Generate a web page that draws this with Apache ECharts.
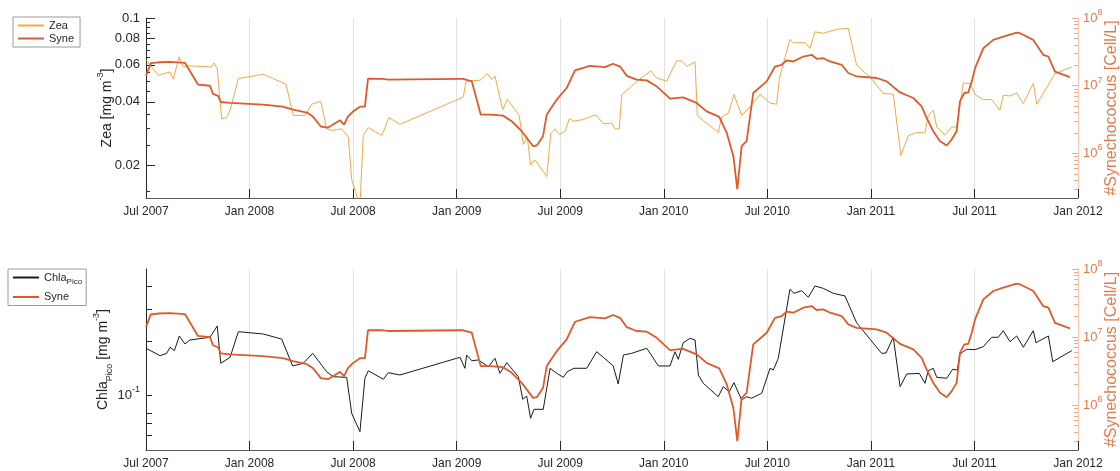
<!DOCTYPE html>
<html>
<head>
<meta charset="utf-8">
<script src="https://cdn.jsdelivr.net/npm/echarts@6/dist/echarts.min.js"></script>
<style>
  html, body { margin: 0; padding: 0; background: #fff; }
  #chart { width: 1120px; height: 471px; }
</style>
</head>
<body>
<div id="chart"></div>
<script>
// time in decimal years
const xTickValues = [2007.5, 2008, 2008.5, 2009, 2009.5, 2010, 2010.5, 2011, 2011.5, 2012];
const xTickLabels = ['Jul 2007', 'Jan 2008', 'Jul 2008', 'Jan 2009', 'Jul 2009', 'Jan 2010', 'Jul 2010', 'Jan 2011', 'Jul 2011', 'Jan 2012'];

const zeaTickValues = [0.02, 0.04, 0.06, 0.08, 0.1];
const zeaTickLabels = ['0.02', '0.04', '0.06', '0.08', '0.1'];
const zeaMinorTicks = [0.015, 0.025, 0.03, 0.035, 0.045, 0.05, 0.055, 0.065, 0.07, 0.075, 0.085, 0.09, 0.095];
const chlaTickValues = [0.06, 0.07, 0.08, 0.1, 0.2, 0.3, 0.4];
const chlaLabelValues = [0.1];
const syneLabelValues = [1e6, 1e7, 1e8];
const syneMinorTicks = [3e5, 4e5, 5e5, 6e5, 7e5, 8e5, 9e5, 2e6, 3e6, 4e6, 5e6, 6e6, 7e6, 8e6, 9e6, 2e7, 3e7, 4e7, 5e7, 6e7, 7e7, 8e7, 9e7];

// Synechococcus [Cell/L]
const syneYears = [2007.500, 2007.523, 2007.563, 2007.616, 2007.688, 2007.751, 2007.809, 2007.823, 2007.848, 2007.861,
  2007.906, 2008.065, 2008.161, 2008.210, 2008.277, 2008.306, 2008.344, 2008.379, 2008.403, 2008.437,
  2008.456, 2008.475, 2008.499, 2008.533, 2008.557, 2008.572, 2008.644, 2008.668, 2009.016, 2009.031,
  2009.073, 2009.116, 2009.161, 2009.224, 2009.266, 2009.314, 2009.369, 2009.388, 2009.417, 2009.435,
  2009.483, 2009.531, 2009.571, 2009.644, 2009.716, 2009.755, 2009.789, 2009.821, 2009.869, 2009.918,
  2009.966, 2010.030, 2010.093, 2010.159, 2010.207, 2010.268, 2010.304, 2010.336, 2010.355, 2010.376,
  2010.400, 2010.432, 2010.497, 2010.537, 2010.569, 2010.593, 2010.625, 2010.674, 2010.714, 2010.738,
  2010.770, 2010.803, 2010.859, 2010.891, 2010.931, 2011.028, 2011.076, 2011.141, 2011.205, 2011.245,
  2011.269, 2011.301, 2011.334, 2011.366, 2011.390, 2011.414, 2011.430, 2011.451, 2011.470, 2011.487,
  2011.503, 2011.543, 2011.591, 2011.639, 2011.704, 2011.720, 2011.784, 2011.832, 2011.857, 2011.889,
  2011.961];
const syneValues = [1.40e7, 2.16e7, 2.22e7, 2.25e7, 2.18e7, 1.04e7, 1.0e7, 7.6e6, 7.1e6, 5.75e6,
  5.57e6, 5.26e6, 4.91e6, 4.44e6, 4.01e6, 3.5e6, 2.5e6, 2.41e6, 2.67e6, 3.09e6,
  2.67e6, 3.5e6, 4.15e6, 4.91e6, 4.91e6, 1.27e7, 1.26e7, 1.23e7, 1.26e7, 1.26e7,
  1.16e7, 3.75e6, 3.75e6, 3.62e6, 2.99e6, 2.13e6, 1.28e6, 1.32e6, 1.8e6, 3.75e6,
  6.22e6, 9.25e6, 1.68e7, 1.97e7, 1.88e7, 2.11e7, 1.92e7, 1.40e7, 1.23e7, 1.2e7,
  9.77e6, 6.44e6, 6.73e6, 5.57e6, 4.19e6, 3.47e6, 2.02e6, 9.1e5, 2.96e5, 1.28e6,
  1.52e6, 7.81e6, 1.16e7, 1.92e7, 2.04e7, 2.36e7, 2.28e7, 2.7e7, 2.86e7, 2.5e7,
  2.55e7, 2.28e7, 2.04e7, 1.54e7, 1.37e7, 1.3e7, 1.16e7, 7.96e6, 6.59e6, 4.97e6,
  3.35e6, 2.13e6, 1.52e6, 1.31e6, 1.61e6, 2.13e6, 5.88e6, 7.81e6, 7.96e6, 1.16e7,
  1.82e7, 3.58e7, 4.75e7, 5.31e7, 6.08e7, 5.96e7, 4.75e7, 2.86e7, 2.7e7, 1.62e7,
  1.34e7];

// Zeaxanthin [mg m-3]
const zeaYears = [2007.500, 2007.559, 2007.616, 2007.632, 2007.659, 2007.680, 2007.704, 2007.817, 2007.829, 2007.844,
  2007.865, 2007.890, 2007.906, 2007.946, 2008.066, 2008.176, 2008.211, 2008.268, 2008.300, 2008.344,
  2008.372, 2008.397, 2008.445, 2008.477, 2008.493, 2008.533, 2008.549, 2008.573, 2008.638, 2008.673,
  2008.726, 2009.032, 2009.045, 2009.113, 2009.148, 2009.169, 2009.185, 2009.222, 2009.244, 2009.302,
  2009.322, 2009.341, 2009.357, 2009.378, 2009.435, 2009.454, 2009.475, 2009.496, 2009.523, 2009.544,
  2009.566, 2009.611, 2009.660, 2009.676, 2009.708, 2009.749, 2009.764, 2009.785, 2009.797, 2009.845,
  2009.893, 2009.938, 2009.962, 2010.014, 2010.062, 2010.087, 2010.111, 2010.151, 2010.162, 2010.199,
  2010.263, 2010.280, 2010.312, 2010.339, 2010.376, 2010.424, 2010.465, 2010.513, 2010.545, 2010.558,
  2010.609, 2010.625, 2010.682, 2010.706, 2010.730, 2010.770, 2010.835, 2010.891, 2010.931, 2010.996,
  2011.060, 2011.108, 2011.145, 2011.181, 2011.221, 2011.261, 2011.277, 2011.301, 2011.318, 2011.358,
  2011.390, 2011.414, 2011.446, 2011.478, 2011.507, 2011.543, 2011.583, 2011.623, 2011.639, 2011.672,
  2011.704, 2011.736, 2011.784, 2011.801, 2011.889, 2011.970];
const zeaValues = [0.0631, 0.0535, 0.0555, 0.0512, 0.0654, 0.0586, 0.0593, 0.0586, 0.0612, 0.0576,
  0.0333, 0.0337, 0.0365, 0.0516, 0.0541, 0.0485, 0.0345, 0.0345, 0.0390, 0.0403,
  0.0298, 0.0293, 0.0298, 0.0272, 0.0172, 0.0128, 0.0277, 0.0302, 0.0277, 0.0337,
  0.0313, 0.0422, 0.0501, 0.0507, 0.0545, 0.0511, 0.0530, 0.0367, 0.0411, 0.0345,
  0.0251, 0.0272, 0.0201, 0.0212, 0.0177, 0.0282, 0.0298, 0.0280, 0.0290, 0.0333,
  0.0324, 0.0330, 0.0345, 0.0345, 0.0315, 0.0317, 0.0298, 0.0298, 0.0433, 0.0475,
  0.0522, 0.0561, 0.0522, 0.0501, 0.0626, 0.0626, 0.0590, 0.0619, 0.0345, 0.0321,
  0.0287, 0.0339, 0.0354, 0.0433, 0.0345, 0.0385, 0.0435, 0.0395, 0.0390, 0.0516,
  0.0792, 0.0763, 0.0763, 0.0717, 0.0860, 0.0846, 0.0884, 0.0893, 0.0597, 0.0525,
  0.0438, 0.0435, 0.0223, 0.0277, 0.0286, 0.0285, 0.0345, 0.0365, 0.0304, 0.0279,
  0.0304, 0.0304, 0.0492, 0.0489, 0.0430, 0.0410, 0.0410, 0.0365, 0.0430, 0.0427,
  0.0441, 0.0393, 0.0489, 0.0390, 0.0545, 0.0586];

// Chla Pico [mg m-3]
const chlaYears = [2007.500, 2007.568, 2007.600, 2007.616, 2007.637, 2007.661, 2007.688, 2007.712, 2007.809, 2007.844,
  2007.861, 2007.906, 2007.946, 2008.066, 2008.155, 2008.208, 2008.259, 2008.305, 2008.372, 2008.404,
  2008.469, 2008.493, 2008.533, 2008.557, 2008.573, 2008.646, 2008.670, 2008.726, 2009.016, 2009.040,
  2009.048, 2009.073, 2009.105, 2009.153, 2009.185, 2009.209, 2009.242, 2009.298, 2009.319, 2009.338,
  2009.357, 2009.373, 2009.418, 2009.451, 2009.483, 2009.515, 2009.534, 2009.566, 2009.628, 2009.676,
  2009.708, 2009.756, 2009.780, 2009.805, 2009.845, 2009.918, 2009.974, 2010.030, 2010.054, 2010.070,
  2010.094, 2010.127, 2010.151, 2010.167, 2010.191, 2010.263, 2010.287, 2010.316, 2010.339, 2010.376,
  2010.400, 2010.424, 2010.473, 2010.513, 2010.529, 2010.553, 2010.609, 2010.629, 2010.666, 2010.698,
  2010.730, 2010.770, 2010.818, 2010.875, 2010.931, 2010.996, 2011.052, 2011.073, 2011.108, 2011.141,
  2011.173, 2011.234, 2011.261, 2011.277, 2011.301, 2011.318, 2011.366, 2011.395, 2011.417, 2011.430,
  2011.462, 2011.503, 2011.543, 2011.583, 2011.615, 2011.639, 2011.672, 2011.704, 2011.736, 2011.784,
  2011.797, 2011.857, 2011.878, 2011.970];
const chlaValues = [0.1824, 0.166, 0.171, 0.1846, 0.177, 0.2133, 0.1927, 0.2026, 0.2097, 0.2422,
  0.1506, 0.1626, 0.2253, 0.2187, 0.2051, 0.1456, 0.1506, 0.171, 0.1354, 0.127,
  0.126, 0.0798, 0.0631, 0.1245, 0.137, 0.123, 0.1337, 0.1298, 0.1626, 0.1414,
  0.1674, 0.1557, 0.1572, 0.1443, 0.1606, 0.1327, 0.1518, 0.127, 0.0953, 0.0994,
  0.0748, 0.0839, 0.0839, 0.1414, 0.1327, 0.126, 0.1354, 0.1414, 0.1414, 0.1746,
  0.1626, 0.1456, 0.1158, 0.1674, 0.171, 0.1824, 0.1456, 0.1456, 0.1746, 0.1585,
  0.1958, 0.207, 0.2026, 0.1298, 0.1168, 0.0985, 0.1119, 0.105, 0.1177, 0.0945,
  0.0985, 0.0966, 0.1029, 0.1414, 0.1384, 0.1606, 0.3863, 0.367, 0.3794, 0.349,
  0.4027, 0.391, 0.367, 0.3548, 0.2525, 0.2046, 0.171, 0.1717, 0.2097, 0.1119,
  0.1315, 0.1325, 0.1168, 0.1369, 0.1414, 0.126, 0.1245, 0.1396, 0.1384, 0.1696,
  0.18, 0.1793, 0.1862, 0.2097, 0.2097, 0.228, 0.1983, 0.2133, 0.1846, 0.228,
  0.1958, 0.2133, 0.1538, 0.177];

const pairs = (xs, ys) => xs.map((x, i) => [x, ys[i]]);
const near = (a, b) => Math.abs(a - b) <= Math.abs(b) * 1e-6;

const textColor = '#262626';
const orange = '#E8784C';
const zeaColor = '#F0A848';
const syneColor = '#DF5A2A';
const font = 'Liberation Sans, Arial, sans-serif';

const chart = echarts.init(document.getElementById('chart'));

function xAxis(gridIndex) {
  return {
    gridIndex: gridIndex,
    type: 'value',
    min: 2007.5,
    max: 2012,
    interval: 0.5,
    axisLine: { lineStyle: { color: '#5a5a5a' } },
    axisTick: { inside: true, length: 9, lineStyle: { color: textColor } },
    axisLabel: {
      color: textColor, fontSize: 12, fontFamily: font, margin: 8,
      showMinLabel: true, showMaxLabel: true,
      formatter: v => xTickLabels[xTickValues.findIndex(t => near(v, t))] || ''
    },
    splitLine: { show: true, lineStyle: { color: '#e2e2e2' } }
  };
}

const supRich = {
  t: { fontSize: 14, fontFamily: font, color: textColor, lineHeight: 22, verticalAlign: 'middle' },
  s: { fontSize: 9, fontFamily: font, color: textColor, lineHeight: 10, verticalAlign: 'top' },
  b: { fontSize: 9, fontFamily: font, color: textColor, lineHeight: 10, verticalAlign: 'bottom' }
};

function syneAxis(gridIndex, withLabels) {
  return {
    gridIndex: gridIndex,
    type: 'log',
    position: 'right',
    min: 2.2e5,
    max: 1e8,
    axisLine: { show: true, lineStyle: { color: '#F6C4AD' } },
    axisTick: { show: true, inside: true, length: withLabels ? 6 : 4,
      customValues: withLabels ? syneLabelValues : syneMinorTicks,
      lineStyle: { color: '#F2A98A' } },
    axisLabel: withLabels ? {
      customValues: syneLabelValues,
      margin: 5,
      formatter: v => '{a|10}{p|' + Math.round(Math.log10(v)) + '}',
      rich: {
        a: { fontSize: 13, fontFamily: font, color: orange, lineHeight: 20, verticalAlign: 'middle' },
        p: { fontSize: 9, fontFamily: font, color: orange, lineHeight: 10, verticalAlign: 'top' }
      }
    } : { show: false },
    splitLine: { show: false },
    name: withLabels ? '#Synechococcus [Cell/L]' : '',
    nameLocation: 'middle',
    nameRotate: 90,
    nameGap: 26,
    nameMoveOverlap: false,
    nameTextStyle: { color: orange, fontSize: 16, fontFamily: font }
  };
}

const hiddenSymbol = { color: 'rgba(0,0,0,0)', borderColor: 'rgba(0,0,0,0)', borderWidth: 0, opacity: 0 };

chart.setOption({
  animation: false,
  backgroundColor: '#fff',
  textStyle: { fontFamily: font },
  grid: [
    { left: 146, right: 42, top: 18, height: 180, outerBoundsMode: 'none' },
    { left: 146, right: 42, top: 269, height: 181, outerBoundsMode: 'none' }
  ],
  legend: [
    {
      orient: 'vertical', left: 13, top: 17,
      data: ['Zea', 'Syne'],
      itemWidth: 26, itemHeight: 10, itemGap: 2, itemStyle: hiddenSymbol,
      padding: [3, 6, 3, 4],
      borderColor: '#9a9a9a', borderWidth: 1, borderRadius: 0,
      textStyle: { fontSize: 11, color: textColor, fontFamily: font },
      selectedMode: false
    },
    {
      orient: 'vertical', left: 8, top: 269,
      data: ['Chla', 'Syne'],
      itemWidth: 26, itemHeight: 12, itemGap: 6, itemStyle: hiddenSymbol,
      padding: [3, 4, 3, 4],
      borderColor: '#9a9a9a', borderWidth: 1, borderRadius: 0,
      selectedMode: false,
      formatter: n => n === 'Chla' ? '{a|Chla}{b|Pico}' : '{a|' + n + '}',
      textStyle: {
        fontSize: 11, color: textColor, fontFamily: font,
        rich: {
          a: { fontSize: 11, color: textColor, fontFamily: font, lineHeight: 16, verticalAlign: 'middle' },
          b: { fontSize: 8, color: textColor, fontFamily: font, lineHeight: 8, verticalAlign: 'bottom' }
        }
      }
    }
  ],
  xAxis: [xAxis(0), xAxis(1)],
  yAxis: [
    // 0: Zea labels and major ticks
    {
      gridIndex: 0, type: 'log', position: 'left', min: 0.014, max: 0.1,
      axisLine: { show: true, lineStyle: { color: textColor } },
      axisTick: { show: true, inside: true, length: 9, customValues: zeaTickValues, lineStyle: { color: textColor } },
      axisLabel: {
        customValues: zeaTickValues, color: textColor, fontSize: 13, fontFamily: font, margin: 6,
        formatter: v => zeaTickLabels[zeaTickValues.findIndex(t => near(v, t))] || ''
      },
      splitLine: { show: false },
      name: '{t|Zea [mg m}{s|-3}{t|]}', nameLocation: 'middle', nameRotate: 90, nameGap: 28,
      nameMoveOverlap: false,
      nameTextStyle: { rich: supRich }
    },
    // 1: Zea minor ticks
    {
      gridIndex: 0, type: 'log', position: 'left', min: 0.014, max: 0.1,
      axisLine: { show: false },
      axisTick: { show: true, inside: true, length: 4, customValues: zeaMinorTicks, lineStyle: { color: textColor } },
      axisLabel: { show: false },
      splitLine: { show: false }
    },
    // 2, 3: Syne top
    syneAxis(0, true),
    syneAxis(0, false),
    // 4: Chla
    {
      gridIndex: 1, type: 'log', position: 'left', min: 0.05, max: 0.5,
      axisLine: { show: true, lineStyle: { color: textColor } },
      axisTick: { show: true, inside: true, length: 6, customValues: chlaTickValues, lineStyle: { color: textColor } },
      axisLabel: {
        customValues: chlaLabelValues, margin: 6,
        formatter: v => '{a|10}{p|' + Math.round(Math.log10(v)) + '}',
        rich: {
          a: { fontSize: 13, fontFamily: font, color: textColor, lineHeight: 20, verticalAlign: 'middle' },
          p: { fontSize: 9, fontFamily: font, color: textColor, lineHeight: 10, verticalAlign: 'top' }
        }
      },
      splitLine: { show: false },
      name: '{t|Chla}{b|Pico}{t| [mg m}{s|-3}{t|]}', nameLocation: 'middle', nameRotate: 90, nameGap: 32,
      nameMoveOverlap: false,
      nameTextStyle: { rich: supRich }
    },
    // 5, 6: Syne bottom
    syneAxis(1, true),
    syneAxis(1, false)
  ],
  series: [
    {
      name: 'Zea', type: 'line', xAxisIndex: 0, yAxisIndex: 0,
      data: pairs(zeaYears, zeaValues),
      symbol: 'none', z: 2,
      lineStyle: { width: 1, color: zeaColor }, itemStyle: { color: zeaColor }
    },
    {
      name: 'Syne', type: 'line', xAxisIndex: 0, yAxisIndex: 2,
      data: pairs(syneYears, syneValues),
      symbol: 'none', z: 3,
      lineStyle: { width: 1.8, color: syneColor }, itemStyle: { color: syneColor }
    },
    {
      name: 'Chla', type: 'line', xAxisIndex: 1, yAxisIndex: 4,
      data: pairs(chlaYears, chlaValues),
      symbol: 'none', z: 2,
      lineStyle: { width: 1, color: '#1a1a1a' }, itemStyle: { color: '#1a1a1a' }
    },
    {
      name: 'Syne', type: 'line', xAxisIndex: 1, yAxisIndex: 5,
      data: pairs(syneYears, syneValues),
      symbol: 'none', z: 3,
      lineStyle: { width: 1.8, color: syneColor }, itemStyle: { color: syneColor }
    }
  ]
});
</script>
</body>
</html>
